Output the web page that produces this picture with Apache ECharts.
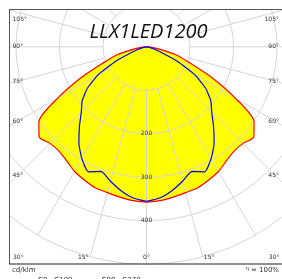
<!DOCTYPE html>
<html>
<head>
<meta charset="utf-8">
<style>
  html, body { margin: 0; padding: 0; background: #fff; }
  #chart { width: 282px; height: 279px; }
</style>
<script src="https://cdn.jsdelivr.net/npm/echarts@6/dist/echarts.min.js"></script>
</head>
<body>
<div id="chart"></div>
<script>
// gamma angles (deg from nadir) and luminous intensity in cd/klm
const gammas = [0, 5, 10, 15, 20, 25, 30, 35, 40, 45, 50, 55, 60, 65, 70, 75, 80, 85, 90];
const c0c180 = [357, 355, 351, 347, 345, 338, 331, 320, 313, 314, 322, 302, 235, 163, 103, 70, 30, 10, 0];
const c90c270 = [355, 349, 336, 320, 305, 317, 297, 271, 240, 212, 193, 166, 128, 78, 33, 16, 7, 2, 0];

const radiusTicks = [200, 300, 400];
const sideAngleLabels = [105, 90, 75, 60, 45];
const bottomAngleLabels = [-30, -15, 0, 15, 30];

const cx = 146.5;
const cy = 46.8;
const rMax = 217.5;

const chart = echarts.init(document.getElementById('chart'));

// mirror one half plane onto the other so the curve closes through the centre
function fullCurve(values) {
  const pts = [];
  for (let i = gammas.length - 1; i >= 0; i--) {
    pts.push([values[i], gammas[i]]);
  }
  for (let i = 1; i < gammas.length; i++) {
    pts.push([values[i], 360 - gammas[i]]);
  }
  return pts;
}

const labelFont = { fontFamily: 'DejaVu Sans', fontSize: 6, fill: '#333' };
const texts = [];

sideAngleLabels.forEach((g) => {
  const rad = (g * Math.PI) / 180;
  let y = g === 90 ? cy : cy + (cx - 18) / Math.tan(rad);
  y = Math.max(19, y);
  texts.push({ type: 'text', z: 60, style: { ...labelFont, text: g + '°', x: 12.5, y: y, align: 'left', verticalAlign: 'middle' } });
  texts.push({ type: 'text', z: 60, style: { ...labelFont, text: g + '°', x: 279, y: y, align: 'right', verticalAlign: 'middle' } });
});

bottomAngleLabels.forEach((g) => {
  const lineX = cx + (257 - cy) * Math.tan((g * Math.PI) / 180);
  let x = lineX;
  let align = 'center';
  if (g < 0) { x = lineX - 1.5; align = 'right'; }
  if (g > 0) { x = lineX + 1; align = 'left'; }
  texts.push({ type: 'text', z: 60, style: { ...labelFont, text: Math.abs(g) + '°', x: x, y: 257, align: align, verticalAlign: 'middle' } });
});

const option = {
  animation: false,
  backgroundColor: '#fff',
  polar: [
    { center: [cx, cy], radius: [rMax * 0.2, rMax] },
    { center: [cx, cy], radius: [0, rMax] },
  ],
  angleAxis: [
    {
      polarIndex: 0,
      type: 'value',
      min: 0,
      max: 360,
      interval: 15,
      startAngle: 270,
      z: 2,
      axisLine: { show: false },
      axisTick: { show: false },
      axisLabel: { show: false },
      splitLine: { show: true, lineStyle: { color: '#d6d6d6', width: 1 } },
    },
    { polarIndex: 1, type: 'value', min: 0, max: 360, startAngle: 270, show: false },
  ],
  radiusAxis: [
    {
      polarIndex: 0,
      type: 'value',
      min: 100,
      max: 500,
      interval: 100,
      z: 2,
      axisLine: { show: false },
      axisTick: { show: false },
      splitLine: { show: true, lineStyle: { color: '#d6d6d6', width: 1 } },
      axisLabel: {
        margin: 0,
        align: 'center',
        verticalAlign: 'middle',
        fontFamily: 'DejaVu Sans',
        fontSize: 6,
        color: '#333',
        formatter: (v) => (radiusTicks.includes(v) ? String(v) : ''),
      },
    },
    { polarIndex: 1, type: 'value', min: 0, max: 500, show: false },
  ],
  legend: {
    z: 70,
    left: 10,
    top: 272,
    itemWidth: 18,
    itemHeight: 1,
    itemGap: 6,
    icon: 'rect',
    data: ['C0 - C180', 'C90 - C270'],
    textStyle: { fontFamily: 'DejaVu Sans', fontSize: 7, color: '#333' },
  },
  series: [
    {
      name: 'fill',
      type: 'line',
      coordinateSystem: 'polar',
      polarIndex: 1,
      z: 1,
      symbol: 'none',
      silent: true,
      smooth: 0.25,
      lineStyle: { width: 0 },
      areaStyle: { color: '#ffff00', opacity: 1 },
      data: fullCurve(c0c180),
    },
    {
      name: 'C0 - C180',
      type: 'line',
      coordinateSystem: 'polar',
      polarIndex: 1,
      z: 3,
      symbol: 'none',
      smooth: 0.25,
      color: '#ff7070',
      lineStyle: { color: '#ff0000', width: 1.2 },
      data: fullCurve(c0c180),
    },
    {
      name: 'C90 - C270',
      type: 'line',
      coordinateSystem: 'polar',
      polarIndex: 1,
      z: 4,
      symbol: 'none',
      smooth: 0.15,
      color: '#7070ff',
      lineStyle: { color: '#0000ff', width: 1.2 },
      data: fullCurve(c90c270),
    },
  ],
  graphic: [
    // white masks clip the diagram to its frame
    { type: 'rect', z: 50, shape: { x: 0, y: 0, width: 282, height: 9 }, style: { fill: '#fff' } },
    { type: 'rect', z: 50, shape: { x: 0, y: 0, width: 9, height: 279 }, style: { fill: '#fff' } },
    { type: 'rect', z: 50, shape: { x: 0, y: 264.5, width: 282, height: 15 }, style: { fill: '#fff' } },
    { type: 'line', z: 55, shape: { x1: 9, y1: 9.5, x2: 282, y2: 9.5 }, style: { stroke: '#555', lineWidth: 1 } },
    { type: 'line', z: 55, shape: { x1: 9.5, y1: 9, x2: 9.5, y2: 264 }, style: { stroke: '#555', lineWidth: 1 } },
    { type: 'line', z: 55, shape: { x1: 9, y1: 264, x2: 282, y2: 264 }, style: { stroke: '#222', lineWidth: 1 } },
    {
      type: 'text', z: 60,
      style: { text: 'LLX1LED1200', x: 148.5, y: 32, align: 'center', verticalAlign: 'middle', fontFamily: 'Open Sans', fontStyle: 'italic', fontSize: 20, fill: '#111' },
    },
    { type: 'text', z: 60, style: { text: 'cd/klm', x: 12, y: 270, verticalAlign: 'middle', fontFamily: 'DejaVu Sans', fontSize: 7, fill: '#333' } },
    {
      type: 'text', z: 60,
      style: {
        text: '{s|η} = 100%', x: 279, y: 270, align: 'right', verticalAlign: 'middle',
        fontFamily: 'DejaVu Sans', fontSize: 7, fill: '#333',
        rich: { s: { fontSize: 5, verticalAlign: 'top', fill: '#333' } },
      },
    },
    ...texts,
  ],
};

chart.setOption(option);

window.addEventListener('resize', () => {
  chart.resize();
});
</script>
</body>
</html>
